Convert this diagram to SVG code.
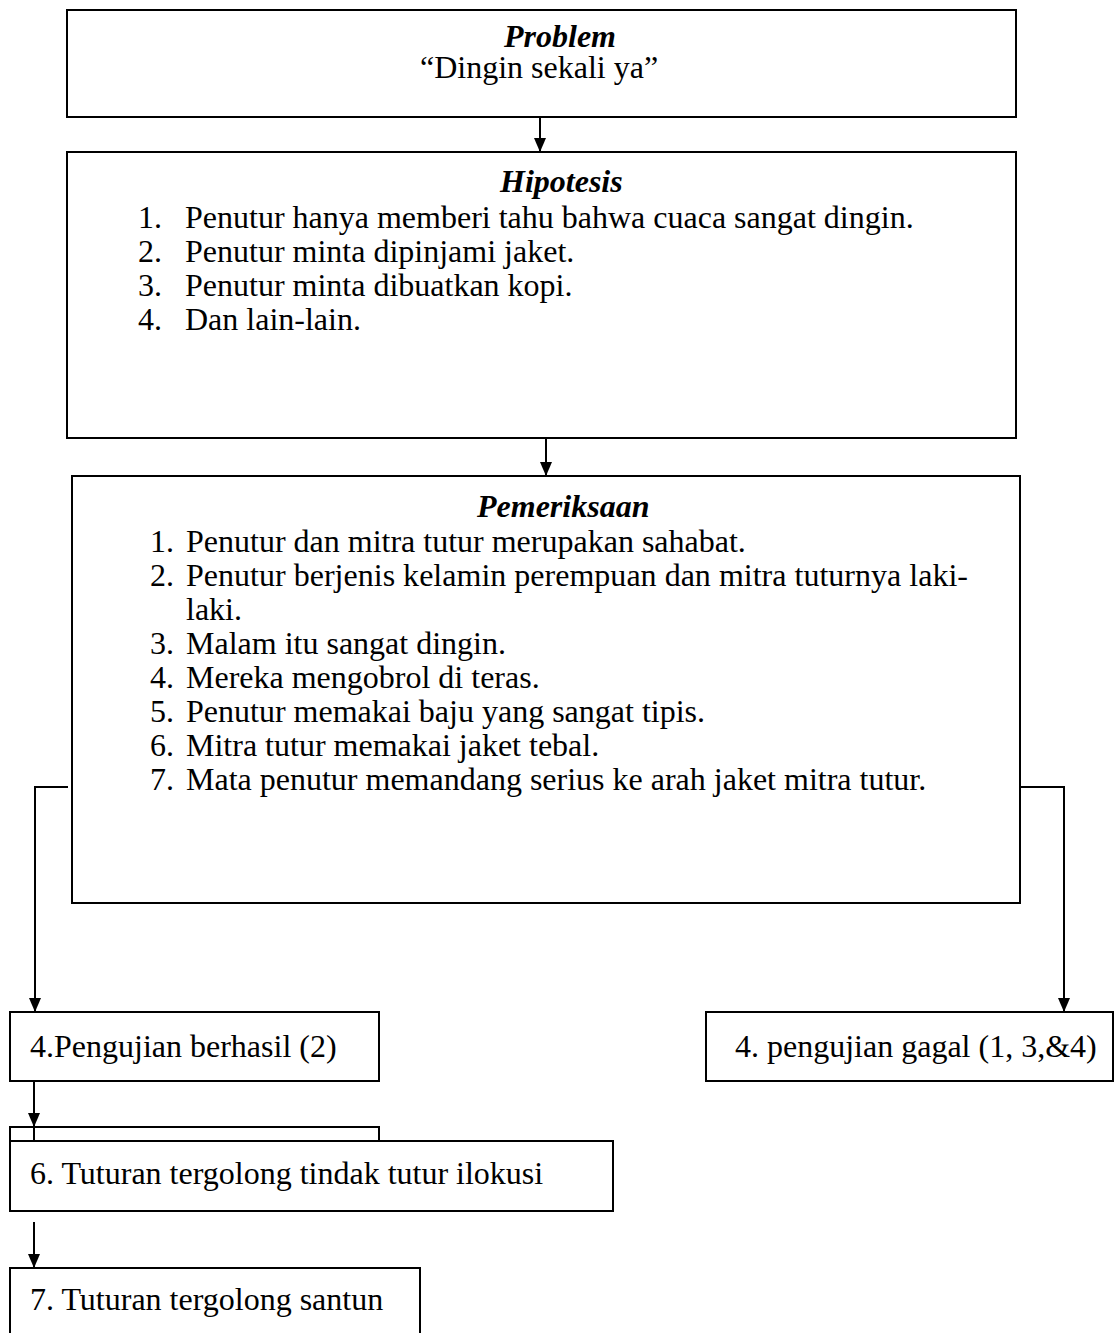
<svg xmlns="http://www.w3.org/2000/svg" width="1114" height="1333" viewBox="0 0 1114 1333">
<style>
.box{fill:#fff;stroke:#000;stroke-width:2}
.t{font-family:"Liberation Serif","Times New Roman",serif;font-size:32px;fill:#000}
.h{font-weight:bold;font-style:italic}
.c{fill:none;stroke:#000;stroke-width:2}
</style>
<defs>
<marker id="ah" viewBox="0 0 14 12" refX="14" refY="6" markerWidth="14" markerHeight="12" markerUnits="userSpaceOnUse" orient="auto"><path d="M0,0 L14,6 L0,12 z" fill="#000"/></marker>
</defs>
<rect width="1114" height="1333" fill="#fff"/>
<g id="problem">
<rect class="box" x="67" y="10" width="949" height="107"/>
<text class="t h" x="504" y="47">Problem</text>
<text class="t" x="420" y="78">“Dingin sekali ya”</text>
</g>
<g id="hipotesis">
<rect class="box" x="67" y="152" width="949" height="286"/>
<text class="t h" x="500" y="192">Hipotesis</text>
<text class="t" x="138" y="228">1.</text><text class="t" x="185" y="228">Penutur hanya memberi tahu bahwa cuaca sangat dingin.</text>
<text class="t" x="138" y="262">2.</text><text class="t" x="185" y="262">Penutur minta dipinjami jaket.</text>
<text class="t" x="138" y="296">3.</text><text class="t" x="185" y="296">Penutur minta dibuatkan kopi.</text>
<text class="t" x="138" y="330">4.</text><text class="t" x="185" y="330">Dan lain-lain.</text>
</g>
<g id="pemeriksaan">
<rect class="box" x="72" y="476" width="948" height="427"/>
<text class="t h" x="477" y="517">Pemeriksaan</text>
<text class="t" x="150" y="552">1.</text><text class="t" x="186" y="552">Penutur dan mitra tutur merupakan sahabat.</text>
<text class="t" x="150" y="586">2.</text><text class="t" x="186" y="586" textLength="782" lengthAdjust="spacing">Penutur berjenis kelamin perempuan dan mitra tuturnya laki-</text>
<text class="t" x="186" y="620">laki.</text>
<text class="t" x="150" y="654">3.</text><text class="t" x="186" y="654">Malam itu sangat dingin.</text>
<text class="t" x="150" y="688">4.</text><text class="t" x="186" y="688">Mereka mengobrol di teras.</text>
<text class="t" x="150" y="722">5.</text><text class="t" x="186" y="722">Penutur memakai baju yang sangat tipis.</text>
<text class="t" x="150" y="756">6.</text><text class="t" x="186" y="756">Mitra tutur memakai jaket tebal.</text>
<text class="t" x="150" y="790">7.</text><text class="t" x="186" y="790">Mata penutur memandang serius ke arah jaket mitra tutur.</text>
</g>
<g id="berhasil">
<rect class="box" x="10" y="1012" width="369" height="69"/>
<text class="t" x="30" y="1057">4.Pengujian berhasil (2)</text>
</g>
<g id="gagal">
<rect class="box" x="706" y="1012" width="407" height="69"/>
<text class="t" x="735" y="1057">4. pengujian gagal (1, 3,&amp;4)</text>
</g>
<g id="hidden-box">
<rect class="box" x="10" y="1127" width="369" height="40"/>
</g>
<g id="ilokusi">
<rect class="box" x="10" y="1141" width="603" height="70"/>
<text class="t" x="30" y="1184">6. Tuturan tergolong tindak tutur ilokusi</text>
</g>
<g id="santun">
<rect class="box" x="10" y="1268" width="410" height="80"/>
<text class="t" x="30" y="1310">7. Tuturan tergolong santun</text>
</g>
<g id="connectors">
<line class="c" x1="540" y1="117" x2="540" y2="152" marker-end="url(#ah)"/>
<line class="c" x1="546" y1="438" x2="546" y2="476" marker-end="url(#ah)"/>
<polyline class="c" points="68,787 35,787 35,1012" marker-end="url(#ah)"/>
<polyline class="c" points="1020,787 1064,787 1064,1012" marker-end="url(#ah)"/>
<line class="c" x1="34" y1="1081" x2="34" y2="1127" marker-end="url(#ah)"/>
<line class="c" x1="34" y1="1127" x2="34" y2="1141"/>
<line class="c" x1="34" y1="1222" x2="34" y2="1268" marker-end="url(#ah)"/>
</g>
</svg>
